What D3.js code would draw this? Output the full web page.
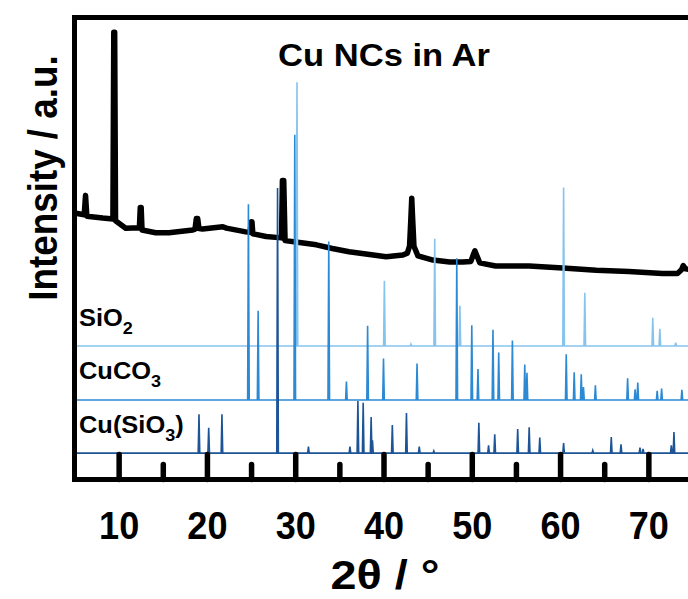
<!DOCTYPE html>
<html>
<head>
<meta charset="utf-8">
<script src="https://cdn.jsdelivr.net/npm/d3@7"></script>
<style>
  html, body { margin: 0; padding: 0; background: #fff; }
  svg { display: block; }
  text { font-family: "Liberation Sans", Arial, sans-serif; font-weight: bold; fill: #000; }
</style>
</head>
<body>
<div id="chart"></div>
<script>
// measured scan of the Cu NCs (2θ in degrees, intensity in a.u.)
const scanTheta = [5.0, 6.1, 6.25, 6.4, 8.2, 9.35, 9.45, 9.55, 9.65, 10.8, 12.35, 12.45, 12.55, 12.65,
  14.2, 15.7, 18.4, 18.65, 18.8, 18.95, 19.1, 19.5, 21.8, 22.2, 24.4, 24.9, 25.0, 25.1, 25.2, 26.7,
  28.45, 28.55, 28.7, 28.85, 30.5, 32.4, 34.2, 36.1, 38.0, 40.3, 42.2, 42.7, 42.95, 43.1, 43.2, 43.3,
  43.45, 43.9, 45.6, 47.5, 49.0, 49.9, 50.2, 50.35, 50.5, 50.9, 52.7, 56.5, 60.3, 64.1, 67.8, 71.6,
  73.3, 73.75, 73.95, 74.2, 75.0];
const scanCounts = [57.7, 57.3, 61.5, 57.0, 56.6, 56.4, 96.8, 96.8, 56.0, 54.4, 54.5, 58.9, 58.9, 54.0,
  53.4, 53.4, 54.0, 54.2, 56.5, 56.5, 54.3, 54.2, 54.7, 54.4, 53.6, 53.5, 55.8, 55.8, 53.2, 52.6,
  52.3, 64.7, 64.7, 51.7, 51.3, 50.8, 50.0, 49.3, 48.8, 48.2, 48.6, 49.0, 50.5, 56.5, 60.9, 56.5,
  50.5, 48.4, 47.5, 47.1, 47.1, 47.2, 48.8, 49.5, 48.8, 46.9, 46.2, 46.2, 45.8, 45.3, 45.0, 44.6,
  44.6, 45.4, 46.3, 45.6, 45.4];

// reference patterns: peak positions (2θ) and stick heights (a.u.)
const sio2Pos = [30.2, 40.1, 43.1, 45.8, 48.65, 60.4, 62.8, 70.5, 71.3, 73.1];
const sio2Int = [57.1, 14.1, 0.4, 23.2, 8.7, 34.3, 11.5, 6.1, 3.7, 0.7];

const cuco3Pos = [24.7, 25.8, 29.95, 33.8, 35.8, 38.2, 40.0, 43.8, 48.3, 50.0, 50.7, 52.4, 53.05, 54.6,
  56.0, 56.25, 60.7, 61.6, 62.4, 62.65, 64.0, 67.65, 68.5, 68.8, 71.0, 71.5, 73.8];
const cuco3Int = [42.4, 19.3, 57.4, 34.3, 4.0, 16.1, 9.0, 7.9, 30.7, 16.2, 6.7, 15.2, 10.3, 12.9,
  7.7, 5.9, 9.9, 6.0, 5.6, 2.8, 3.2, 4.7, 2.3, 3.8, 2.0, 2.5, 2.2];

const cusio3Pos = [19.1, 20.2, 21.7, 28.0, 31.5, 36.2, 37.1, 37.7, 38.6, 38.75, 41.0, 42.6, 44.05, 45.7,
  50.8, 51.9, 52.6, 55.2, 56.5, 57.7, 60.4, 63.7, 65.8, 66.9, 69.05, 69.4, 72.6, 72.9];
const cusio3Int = [8.4, 5.5, 8.4, 57.4, 1.4, 1.4, 11.3, 10.9, 7.8, 2.8, 6.1, 8.7, 1.4, 0.5,
  6.6, 1.7, 4.1, 5.2, 5.6, 3.4, 2.2, 0.6, 3.5, 1.9, 1.2, 0.9, 1.7, 4.6];

// vertical offsets of the stacked references
const refOffsets = [28.9, 17.2, 5.7];

const majorTicks = [10, 20, 30, 40, 50, 60, 70];
const minorTicks = [15, 25, 35, 45, 55, 65];

const width = 688, height = 599;
const margin = { top: 17.5, right: -4.5, bottom: 119.5, left: 74.5 };

const svg = d3.select("#chart").append("svg")
  .attr("width", width)
  .attr("height", height);

const x = d3.scaleLinear().domain([5, 75]).range([margin.left, width - margin.right]);
const y = d3.scaleLinear().domain([0, 100]).range([height - margin.bottom, margin.top]);

svg.append("clipPath").attr("id", "plot-clip")
  .append("rect")
  .attr("x", margin.left).attr("y", margin.top)
  .attr("width", width - margin.right - margin.left)
  .attr("height", height - margin.bottom - margin.top);

const plot = svg.append("g").attr("clip-path", "url(#plot-clip)");

// measured scan
const scan = scanTheta.map((t, i) => [t, scanCounts[i]]);
plot.append("path")
  .datum(scan)
  .attr("fill", "none")
  .attr("stroke", "#000")
  .attr("stroke-width", 5.5)
  .attr("stroke-linejoin", "round")
  .attr("d", d3.line().x(d => x(d[0])).y(d => y(d[1])));

// stick patterns drawn as narrow spikes on their own baseline
const refs = [
  { pos: sio2Pos, int: sio2Int, color: "#86c3ee" },
  { pos: cuco3Pos, int: cuco3Int, color: "#2c89d3" },
  { pos: cusio3Pos, int: cusio3Int, color: "#1d5496" }
];
const halfWidth = 0.09;
refs.forEach((r, k) => {
  const base = refOffsets[k];
  const pts = [[5, base]];
  r.pos.forEach((p, i) => {
    pts.push([p - halfWidth, base], [p, base + r.int[i]], [p + halfWidth, base]);
  });
  pts.push([75, base]);
  plot.append("path")
    .datum(pts)
    .attr("fill", "none")
    .attr("stroke", r.color)
    .attr("stroke-width", 1.6)
    .attr("stroke-linejoin", "miter")
    .attr("d", d3.line().x(d => x(d[0])).y(d => y(d[1])));
});

// reference labels with subscripts
const labelY = [326, 379, 433];
const labelParts = [
  [["SiO", false], ["2", true]],
  [["CuCO", false], ["3", true]],
  [["Cu(SiO", false], ["3", true], [")", false]]
];
labelParts.forEach((parts, k) => {
  const t = svg.append("text")
    .attr("transform", `translate(79,${labelY[k]}) scale(1.06,1)`)
    .style("font-size", "24px");
  parts.forEach(([s, sub]) => {
    t.append("tspan")
      .attr("dy", sub ? 8 : (s === ")" ? -8 : 0))
      .style("font-size", sub ? "17px" : "24px")
      .text(s);
  });
});

// x axis with inward ticks
const axisY = height - margin.bottom;
const gMajor = svg.append("g")
  .attr("transform", `translate(0,${axisY})`)
  .call(d3.axisBottom(x).tickValues(majorTicks).tickSize(-25).tickFormat(d3.format("d")));
const gMinor = svg.append("g")
  .attr("transform", `translate(0,${axisY})`)
  .call(d3.axisBottom(x).tickValues(minorTicks).tickSize(-15).tickFormat(""));
[gMajor, gMinor].forEach(g => {
  g.select(".domain").remove();
  g.selectAll(".tick line")
    .attr("stroke", "#000")
    .attr("stroke-width", 5.5)
    .attr("stroke-linecap", "round");
});
gMajor.selectAll(".tick text")
  .attr("y", 0)
  .attr("dy", 0)
  .attr("transform", "translate(0,59) scale(0.95,1)")
  .style("font-size", "38px")
  .style("font-family", "'Liberation Sans', Arial, sans-serif")
  .style("font-weight", "bold");

// frame: left, top and bottom
svg.append("path")
  .attr("fill", "none")
  .attr("stroke", "#000")
  .attr("stroke-width", 5)
  .attr("d", `M${width + 10},${margin.top}H${margin.left}V${axisY}H${width + 10}`);

// title
svg.append("text")
  .attr("transform", "translate(384,66) scale(1.08,1)")
  .attr("text-anchor", "middle")
  .style("font-size", "32px")
  .text("Cu NCs in Ar");

// axis titles
svg.append("text")
  .attr("transform", "translate(385,589) scale(1.17,1)")
  .attr("text-anchor", "middle")
  .style("font-size", "40px")
  .text("2θ / °");

svg.append("text")
  .attr("transform", "translate(57,178) rotate(-90) scale(0.92,1)")
  .attr("text-anchor", "middle")
  .style("font-size", "40px")
  .text("Intensity / a.u.");
</script>
</body>
</html>
